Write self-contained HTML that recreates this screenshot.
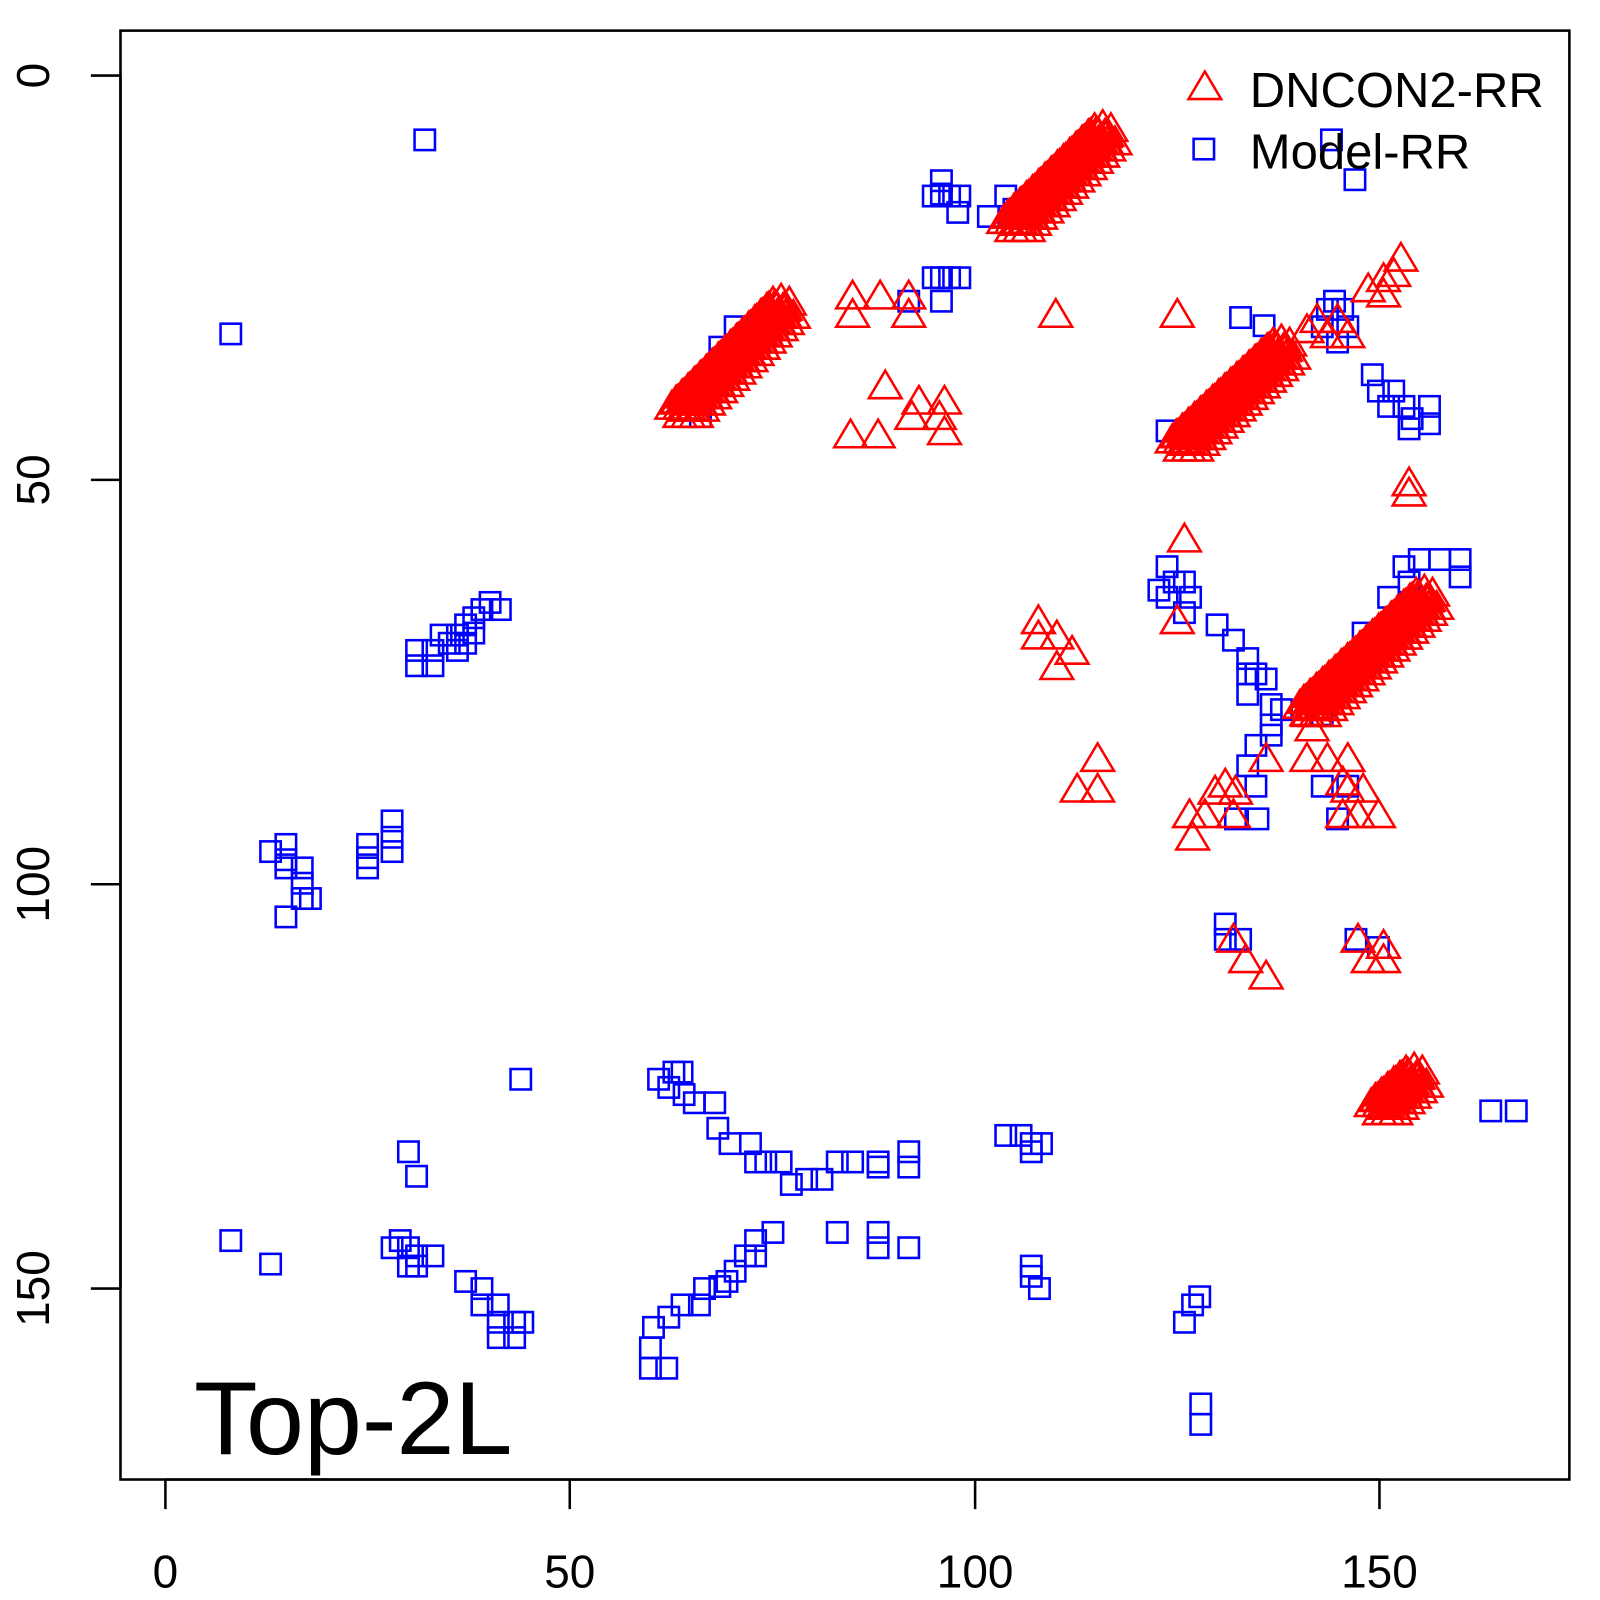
<!DOCTYPE html>
<html><head><meta charset="utf-8"><style>html,body{margin:0;padding:0;background:#fff}svg{display:block}</style></head>
<body>
<svg id="s" width="1600" height="1600" viewBox="0 0 1567 1567" xmlns="http://www.w3.org/2000/svg" font-family="Liberation Sans, sans-serif">
<rect x="0" y="0" width="1567" height="1567" fill="#fff"/>
<g id="pts"></g>
<rect x="118" y="30" width="1419" height="1419" fill="none" stroke="#000" stroke-width="2.5"/>
<g stroke="#000" stroke-width="2.5">
<line x1="162" y1="1449" x2="162" y2="1478"/><line x1="558" y1="1449" x2="558" y2="1478"/>
<line x1="955" y1="1449" x2="955" y2="1478"/><line x1="1351" y1="1449" x2="1351" y2="1478"/>
<line x1="162" y1="1449" x2="1351" y2="1449"/>
<line x1="89" y1="74" x2="118" y2="74"/><line x1="89" y1="470" x2="118" y2="470"/>
<line x1="89" y1="866" x2="118" y2="866"/><line x1="89" y1="1262" x2="118" y2="1262"/>
<line x1="118" y1="74" x2="118" y2="1262"/>
</g>
<g font-size="45" text-anchor="middle" fill="#000">
<text x="162" y="1555">0</text><text x="558" y="1555">50</text><text x="955" y="1555">100</text><text x="1351" y="1555">150</text>
<text transform="translate(48,74) rotate(-90)">0</text>
<text transform="translate(48,470) rotate(-90)">50</text>
<text transform="translate(48,866) rotate(-90)">100</text>
<text transform="translate(48,1262) rotate(-90)">150</text>
</g>
<text x="190" y="1424" font-size="102" fill="#000">Top-2L</text>
<polygon points="1164,97 1196,97 1180,70" fill="none" stroke="#f00" stroke-width="2.5"/>
<rect x="1169" y="136" width="20" height="20" fill="none" stroke="#00f" stroke-width="2.5"/>
<text x="1224" y="105" font-size="48" fill="#000">DNCON2-RR</text>
<text x="1224" y="165" font-size="48" fill="#000">Model-RR</text>
</svg>
<script>
var g=document.getElementById('pts'),h='';
var sq=[[416,137],[226,327],[1304,137],[1327,176],[922,177],[922,190],[914,192],[930,192],[940,192],[938,208],[968,212],[985,192],[993,205],
[914,272],[922,272],[930,272],[940,272],[922,295],[890,295],[1307,295],[1300,303],[1315,303],[1215,311],[1238,319],[1295,320],[1320,320],[1310,335],
[1344,367],[1350,383],[1365,383],[1360,398],[1375,398],[1383,410],[1380,420],[1400,398],[1400,415],[1143,422],[676,390],[686,408],[705,340],[720,320],
[408,637],[408,652],[424,637],[424,652],[432,622],[440,630],[448,622],[448,637],[456,612],[464,605],[464,620],[472,597],[480,590],[490,597],[456,630],
[265,834],[280,827],[280,842],[280,850],[296,850],[296,865],[296,880],[304,880],[280,898],[360,827],[360,840],[360,850],[384,804],[384,834],[384,820],
[1143,555],[1135,578],[1150,570],[1160,570],[1143,585],[1166,585],[1160,600],[1192,612],[1208,627],[1222,645],[1222,660],[1230,660],[1240,665],[1222,680],[1245,690],[1255,695],[1245,710],[1245,720],[1230,730],[1222,750],[1230,770],[1210,802],[1232,802],
[1295,700],[1295,770],[1310,802],[1320,770],[1335,620],[1360,585],[1375,555],[1390,548],[1410,548],[1430,548],[1430,565],[1380,570],
[1200,905],[1200,920],[1215,920],[1328,920],[1350,928],[1360,1080],[1460,1088],[1485,1088],
[645,1057],[660,1050],[668,1050],[655,1065],[670,1072],[680,1080],[700,1080],[703,1105],[715,1120],[735,1120],[740,1138],[750,1138],[765,1138],[775,1160],[790,1155],[805,1155],[820,1138],[835,1138],[860,1138],[860,1143],[890,1128],[890,1143],[510,1057],
[757,1207],[740,1215],[740,1230],[730,1230],[720,1245],[712,1255],[705,1260],[690,1262],[685,1278],[668,1278],[655,1290],[640,1300],[637,1320],[637,1340],[653,1340],[820,1207],[860,1207],[860,1222],[890,1222],
[985,1112],[1000,1112],[1010,1120],[1020,1120],[1010,1128],[1010,1240],[1010,1250],[1018,1262],[400,1128],[408,1152],[226,1215],[265,1238],
[384,1222],[392,1215],[400,1222],[408,1230],[408,1240],[400,1240],[424,1230],[456,1255],[472,1262],[472,1278],[488,1278],[488,1295],[504,1295],[512,1295],[488,1310],[504,1310],
[1160,1295],[1168,1278],[1175,1270],[1176,1375],[1176,1395]];
sq.forEach(function(p){h+='<rect x="'+(p[0]-10)+'" y="'+(p[1]-10)+'" width="20" height="20" fill="none" stroke="#00f" stroke-width="2.5"/>';});
var tr=[[835,292],[862,292],[890,292],[835,310],[890,310],[1034,310],[1153,310],[867,380],[900,395],[925,395],[893,410],[920,410],[925,425],[833,428],[860,428],
[1340,285],[1355,275],[1365,270],[1372,255],[1355,290],[1380,475],[1380,485],[1160,530],[1153,610],[1017,610],[1017,625],[1035,625],[1050,640],[1035,655],
[1075,745],[1055,775],[1075,775],[1240,745],[1280,745],[1300,745],[1320,745],[1320,775],[1315,768],[1335,775],[1315,800],[1330,800],[1350,800],
[1165,800],[1190,777],[1210,777],[1168,822],[1208,800],[1180,800],[1208,922],[1220,942],[1240,958],[1330,922],[1340,942],[1355,942],[1355,928],
[1280,325],[1300,330],[1320,330],[1290,315],[1310,315],[1200,770],[1280,700],[1285,715]];
function line(x1,y1,x2,y2,n,w){for(var i=0;i<=n;i++){var t=i/n,x=x1+(x2-x1)*t,y=y1+(y2-y1)*t;for(var k=-w;k<=w;k++){tr.push([x+k*8,y+Math.abs(k)*3]);tr.push([x+k*8-4,y+8]);tr.push([x+k*8+4,y+16]);}}}
line(995,210,1080,125,14,1);line(670,392,765,295,16,1);line(1160,425,1255,335,16,1);line(1285,685,1395,580,18,1);line(1355,1075,1385,1048,5,1);
tr.forEach(function(p){h+='<polygon points="'+(p[0]-16)+','+(p[1]+10)+' '+(p[0]+16)+','+(p[1]+10)+' '+p[0]+','+(p[1]-17)+'" fill="none" stroke="#f00" stroke-width="2.5"/>';});
g.innerHTML=h;
</script>
</body></html>
